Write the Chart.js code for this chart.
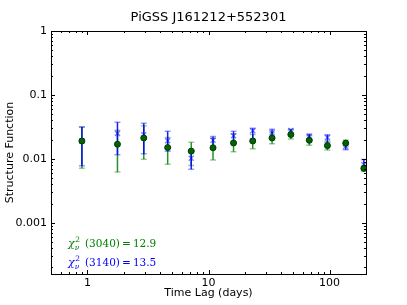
<!DOCTYPE html>
<html>
<head>
<meta charset="utf-8">
<script src="https://cdn.jsdelivr.net/npm/chart.js@4/dist/chart.umd.min.js"></script>
<style>
html,body{margin:0;padding:0;background:#fff;}
#wrap{width:407px;height:305px;position:relative;}
</style>
</head>
<body>
<div id="wrap"><canvas id="c" width="407" height="305"></canvas></div>
<script>
const titleText = "PiGSS J161212+552301";
const xLabel = "Time Lag (days)";
const yLabel = "Structure Function";

const lags = [0.9, 1.77, 2.92, 4.6, 7.2, 10.9, 16.1, 23.2, 33.5, 47.9, 68, 96, 136, 192];

const greenSF = [0.019, 0.0169, 0.0212, 0.015, 0.0132, 0.0149, 0.0177, 0.019, 0.0212, 0.024, 0.0195, 0.0161, 0.0176, 0.0071];
const greenLo = [0.0071, 0.0062, 0.0099, 0.0082, 0.0079, 0.0096, 0.0129, 0.0144, 0.0172, 0.0204, 0.0163, 0.0137, 0.0157, 0.0064];
const greenHi = [0.0316, 0.028, 0.033, 0.0216, 0.0182, 0.021, 0.0245, 0.024, 0.026, 0.028, 0.023, 0.019, 0.0197, 0.0078];

const blueSF = [0.019, 0.025, 0.0238, 0.0192, 0.0102, 0.0195, 0.023, 0.0274, 0.0258, 0.0277, 0.0223, 0.0216, 0.0156, 0.0081];
const blueLo = [0.0078, 0.0116, 0.012, 0.0132, 0.0069, 0.0141, 0.0185, 0.0204, 0.0204, 0.024, 0.019, 0.018, 0.0139, 0.0068];
const blueHi = [0.0316, 0.0375, 0.036, 0.027, 0.0137, 0.0223, 0.027, 0.030, 0.029, 0.029, 0.0245, 0.0238, 0.0175, 0.0098];

const greenLabel = ["(3040)", "12.9"];
const blueLabel = ["(3140)", "13.5"];

function logTicks(min, max) {
  const out = [];
  for (let e = -6; e <= 4; e++) {
    for (let m = 1; m <= 9; m++) {
      const v = +(m * Math.pow(10, e)).toPrecision(6);
      if (v >= min * 0.9999 && v <= max * 1.0001) out.push({value: v});
    }
  }
  return out;
}
function isMajor(v) {
  const l = Math.log10(v);
  return Math.abs(l - Math.round(l)) < 1e-6;
}
function fmt(v) {
  if (!isMajor(v)) return '';
  const e = Math.round(Math.log10(v));
  if (e >= 0) return String(Math.pow(10, e));
  return '0.' + '0'.repeat(-e - 1) + '1';
}

const errPlugin = {
  id: 'err',
  beforeDatasetsDraw(chart) {
    const ctx = chart.ctx, xs = chart.scales.x, ys = chart.scales.y;
    const draw = (lo, hi, color, capColor) => {
      ctx.save();
      for (let i = 0; i < lags.length; i++) {
        const px = xs.getPixelForValue(lags[i]);
        const pl = ys.getPixelForValue(lo[i]);
        const ph = ys.getPixelForValue(hi[i]);
        ctx.strokeStyle = color; ctx.lineWidth = 1.5;
        ctx.beginPath(); ctx.moveTo(px, pl); ctx.lineTo(px, ph); ctx.stroke();
        ctx.strokeStyle = capColor; ctx.lineWidth = 1.5;
        ctx.beginPath();
        ctx.moveTo(px - 3, pl); ctx.lineTo(px + 3, pl);
        ctx.moveTo(px - 3, ph); ctx.lineTo(px + 3, ph);
        ctx.stroke();
      }
      ctx.restore();
    };
    draw(greenLo, greenHi, 'rgba(0,128,0,0.85)', 'rgba(0,128,0,0.4)');
    draw(blueLo, blueHi, 'rgba(0,0,255,0.9)', 'rgba(0,0,255,0.4)');
  },
  afterDraw(chart) {
    const ctx = chart.ctx, a = chart.chartArea;
    ctx.save();
    ctx.strokeStyle = '#000'; ctx.lineWidth = 1;
    ctx.strokeRect(Math.round(a.left) + 0.5, Math.round(a.top) + 0.5, Math.round(a.right - a.left), Math.round(a.bottom - a.top));
    const xs = chart.scales.x, ys = chart.scales.y;
    ctx.beginPath();
    xs.ticks.forEach(t => {
      const p = Math.round(xs.getPixelForValue(t.value)) + 0.5;
      const L = isMajor(t.value) ? 4 : 2;
      ctx.moveTo(p, a.bottom); ctx.lineTo(p, a.bottom - L);
      ctx.moveTo(p, a.top); ctx.lineTo(p, a.top + L);
    });
    ys.ticks.forEach(t => {
      const p = Math.round(ys.getPixelForValue(t.value)) + 0.5;
      const L = isMajor(t.value) ? 4 : 2;
      ctx.moveTo(a.left, p); ctx.lineTo(a.left + L, p);
      ctx.moveTo(a.right, p); ctx.lineTo(a.right - L, p);
    });
    ctx.stroke();
    ctx.fillStyle = '#000';
    ctx.font = '13px "DejaVu Sans"';
    ctx.textAlign = 'center'; ctx.textBaseline = 'middle';
    ctx.fillText(titleText, (a.left + a.right) / 2, 18);
    const drawChi = (y, parts, color) => {
      let x = a.left + 17;
      ctx.fillStyle = color;
      ctx.textAlign = 'left'; ctx.textBaseline = 'alphabetic';
      ctx.font = 'italic 11px "DejaVu Serif"';
      ctx.fillText('χ', x, y);
      const w = ctx.measureText('χ').width;
      ctx.font = '7.5px "DejaVu Serif"';
      ctx.fillText('2', x + w + 0.5, y - 5);
      ctx.font = 'italic 7.5px "DejaVu Serif"';
      ctx.fillText('ν', x + w, y + 3);
      x += w + 7;
      ctx.font = '10.5px "DejaVu Serif"';
      const s = ' ' + parts[0] + '\u2009=\u2009' + parts[1];
      ctx.fillText(s, x, y);
    };
    drawChi(a.bottom - 27, greenLabel, '#008000');
    drawChi(a.bottom - 8, blueLabel, '#0000ff');
    ctx.restore();
  }
};

new Chart(document.getElementById('c'), {
  type: 'scatter',
  data: {
    datasets: [
      {
        label: 'green',
        data: lags.map((x, i) => ({x: x, y: greenSF[i]})),
        pointStyle: 'circle', pointRadius: 3,
        backgroundColor: '#006400', borderColor: '#003a00', borderWidth: 1
      },
      {
        label: 'blue',
        data: lags.map((x, i) => ({x: x, y: blueSF[i]})),
        pointStyle: 'crossRot', pointRadius: 3.5,
        backgroundColor: 'rgba(0,0,255,0.5)', borderColor: 'rgba(0,0,255,0.5)', borderWidth: 1.5
      }
    ]
  },
  options: {
    responsive: false, animation: false,
    layout: {padding: {left: 0, top: 31, right: 41, bottom: 0}},
    plugins: {legend: {display: false}, tooltip: {enabled: false}, title: {display: false}},
    scales: {
      x: {
        type: 'logarithmic', min: 0.5, max: 200, position: 'bottom',
        afterBuildTicks: s => { s.ticks = logTicks(0.5, 200); },
        afterFit: s => { s.height = 31; },
        grid: {display: false, drawTicks: false},
        border: {display: false},
        ticks: {callback: v => fmt(v), autoSkip: false, maxRotation: 0, color: '#000', padding: 3,
                font: {family: 'DejaVu Sans', size: 11}},
        title: {display: true, text: xLabel, color: '#000', font: {family: 'DejaVu Sans', size: 11},
                padding: {top: 0, bottom: 5}}
      },
      y: {
        type: 'logarithmic', min: 1.58e-4, max: 1,
        afterBuildTicks: s => { s.ticks = logTicks(1.58e-4, 1); },
        afterFit: s => { s.width = 51; },
        grid: {display: false, drawTicks: false},
        border: {display: false},
        ticks: {callback: v => fmt(v), autoSkip: false, color: '#000', padding: 4,
                font: {family: 'DejaVu Sans', size: 11}},
        title: {display: true, text: yLabel, color: '#000', font: {family: 'DejaVu Sans', size: 11},
                padding: {top: 4, bottom: 0}}
      }
    }
  },
  plugins: [errPlugin]
});
</script>
</body>
</html>
